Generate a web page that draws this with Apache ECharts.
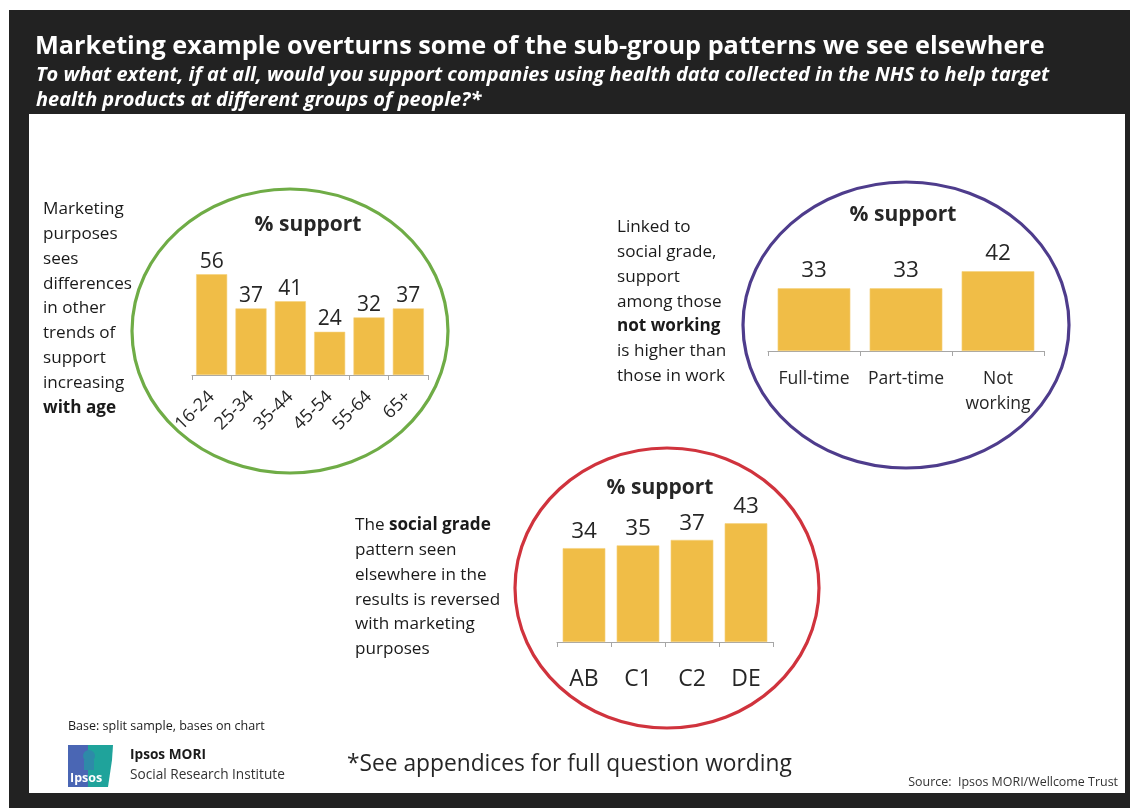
<!DOCTYPE html>
<html><head><meta charset="utf-8">
<script src="https://cdn.jsdelivr.net/npm/echarts@6/dist/echarts.min.js"></script>
<style>html,body{margin:0;padding:0;background:#fff}#c{width:1130px;height:808px}</style>
</head><body><div id="c"></div>
<script>
// ---------- data ----------
const titleText = 'Marketing example overturns some of the sub-group patterns we see elsewhere';
const subtitleLines = [
  'To what extent, if at all, would you support companies using health data collected in the NHS to help target',
  'health products at different groups of people?*'
];
const panelTitle = '% support';
const ageCategories = ['16-24', '25-34', '35-44', '45-54', '55-64', '65+'];
const ageValues = [56, 37, 41, 24, 32, 37];
const workCategories = ['Full-time', 'Part-time', 'Not\nworking'];
const workValues = [33, 33, 42];
const gradeCategories = ['AB', 'C1', 'C2', 'DE'];
const gradeValues = [34, 35, 37, 43];
const ageNote = ['Marketing', 'purposes', 'sees', 'differences', 'in other', 'trends of', 'support', 'increasing', '{b|with age}'];
const workNote = ['Linked to', 'social grade,', 'support', 'among those', '{b|not working}', 'is higher than', 'those in work'];
const gradeNote = ['The {b|social grade}', 'pattern seen', 'elsewhere in the', 'results is reversed', 'with marketing', 'purposes'];
const baseText = 'Base: split sample, bases on chart';
const footText = '*See appendices for full question wording';
const sourceText = 'Source:  Ipsos MORI/Wellcome Trust';

// ---------- styling helpers ----------
const FAM = '"Open Sans", "Noto Sans", sans-serif';
const TXT = '#262626';
const BAR = '#F0BD47';
const mctx = document.createElement('canvas').getContext('2d');
function textW(t, size, weight, style) {
  mctx.font = (style || 'normal') + ' ' + (weight || 'normal') + ' ' + size + 'px ' + FAM;
  return mctx.measureText(t).width;
}
function fitSize(t, target, weight, style) { return 100 * target / textW(t, 100, weight, style); }

const titleSize = Math.min(26, fitSize(titleText, 1010, 'bold'));
const subSize = Math.min(20, fitSize(subtitleLines[0], 1014, 'bold', 'italic'));
const footSize = Math.min(27, fitSize(footText, 445));
const bodySize = Math.min(18.5, fitSize('differences', 89));
const baseSize = Math.min(13, fitSize(baseText, 197));
const logoSize = Math.min(16, fitSize('Social Research Institute', 155));
const srcSize = Math.min(14, fitSize(sourceText, 210));

function txt(text, x, y, opts) {
  const st = Object.assign({
    text, x, y, fill: TXT, fontFamily: FAM, fontSize: 16,
    align: 'left', textAlign: 'left', verticalAlign: 'middle', textVerticalAlign: 'middle'
  }, opts || {});
  if (st.align) st.textAlign = st.align;
  return { type: 'text', z: 5, style: st };
}
function note(lines, x, yFirst) {
  const lh = 24.9;
  return {
    type: 'text', z: 5,
    style: {
      text: lines.join('\n'), x, y: yFirst - lh / 2,
      fill: '#1a1a1a', fontFamily: FAM, fontSize: bodySize, lineHeight: lh,
      align: 'left', textAlign: 'left', verticalAlign: 'top', textVerticalAlign: 'top',
      rich: { b: { fontWeight: 'bold', fontFamily: FAM, fontSize: bodySize, lineHeight: lh, fill: '#1a1a1a', color: '#1a1a1a' } }
    }
  };
}

function catAxis(gridIndex, data, label) {
  return {
    type: 'category', gridIndex, data, boundaryGap: true,
    axisLine: { show: true, lineStyle: { color: '#a6a6a6', width: 1 } },
    axisTick: { show: true, length: 5, lineStyle: { color: '#a6a6a6' } },
    axisLabel: Object.assign({ color: TXT, fontFamily: FAM, interval: 0 }, label),
    splitLine: { show: false }
  };
}
function valAxis(gridIndex, max) {
  return { type: 'value', gridIndex, min: 0, max, show: false, splitLine: { show: false } };
}
function bars(i, data, fs, dist) {
  return {
    type: 'bar', xAxisIndex: i, yAxisIndex: i, data, barCategoryGap: '21%',
    itemStyle: { color: BAR, borderColor: '#F5D27E', borderWidth: 0.6 },
    label: { show: true, position: 'top', distance: dist, fontSize: fs, fontFamily: FAM, color: TXT },
    emphasis: { disabled: true }
  };
}

const chart = echarts.init(document.getElementById('c'), null, { renderer: 'canvas' });
chart.setOption({
  animation: false,
  backgroundColor: '#ffffff',
  grid: [
    { left: 192, width: 236, top: 267, height: 108 },
    { left: 768, width: 276, top: 256, height: 95 },
    { left: 557, width: 216, top: 504, height: 138 }
  ],
  xAxis: [
    catAxis(0, ageCategories, { rotate: 45, fontSize: 18, margin: 19 }),
    catAxis(1, workCategories, { fontSize: 17.5, lineHeight: 25, margin: 16 }),
    catAxis(2, gradeCategories, { fontSize: 23, margin: 26 })
  ],
  yAxis: [valAxis(0, 60), valAxis(1, 50), valAxis(2, 50)],
  series: [bars(0, ageValues, 21, 2), bars(1, workValues, 22.5, 6), bars(2, gradeValues, 22.5, 5)],
  graphic: { elements: [
    { type: 'rect', z: -10, shape: { x: 9, y: 10, width: 1121, height: 798 }, style: { fill: '#222222' } },
    { type: 'rect', z: -9, shape: { x: 29, y: 114, width: 1096, height: 679 }, style: { fill: '#ffffff' } },
    txt(titleText, 35, 47, { fill: '#ffffff', fontWeight: 'bold', fontSize: titleSize }),
    txt(subtitleLines[0], 36, 75, { fill: '#ffffff', fontWeight: 'bold', fontStyle: 'italic', fontSize: subSize }),
    txt(subtitleLines[1], 36, 100, { fill: '#ffffff', fontWeight: 'bold', fontStyle: 'italic', fontSize: subSize }),
    { type: 'ellipse', z: 1, shape: { cx: 290, cy: 331, rx: 158, ry: 142 }, style: { fill: 'none', stroke: '#6FAC46', lineWidth: 3.2 } },
    { type: 'ellipse', z: 1, shape: { cx: 906, cy: 325, rx: 163, ry: 143 }, style: { fill: 'none', stroke: '#4E3C8C', lineWidth: 3.2 } },
    { type: 'ellipse', z: 1, shape: { cx: 667, cy: 588, rx: 152, ry: 140 }, style: { fill: 'none', stroke: '#D0333D', lineWidth: 3.2 } },
    txt(panelTitle, 308, 225, { fontWeight: 'bold', fontSize: 21, align: 'center' }),
    txt(panelTitle, 903, 215, { fontWeight: 'bold', fontSize: 21, align: 'center' }),
    txt(panelTitle, 660, 488, { fontWeight: 'bold', fontSize: 21, align: 'center' }),
    note(ageNote, 43, 209),
    note(workNote, 617, 227),
    note(gradeNote, 355, 525),
    txt(baseText, 68, 726, { fontSize: baseSize, fill: '#1a1a1a' }),
    // logo
    { type: 'rect', z: 5, shape: { x: 68, y: 745, width: 22, height: 42 }, style: { fill: '#4A66B4' } },
    { type: 'polygon', z: 5, shape: { points: [[88, 745], [113, 745], [112, 760], [108, 787], [88, 787]] }, style: { fill: '#1FA39B' } },
    { type: 'circle', z: 6, shape: { cx: 89, cy: 756, r: 6 }, style: { fill: '#2E8AA8' } },
    { type: 'rect', z: 6, shape: { x: 84, y: 760, width: 10, height: 10 }, style: { fill: '#2E8AA8' } },
    txt('Ipsos', 70, 778, { fill: '#ffffff', fontWeight: 'bold', fontSize: 12.5 }),
    txt('Ipsos MORI', 130, 755, { fontWeight: 'bold', fontSize: logoSize, fill: '#1a1a1a' }),
    txt('Social Research Institute', 130, 775, { fontSize: logoSize, fill: '#333333' }),
    txt(footText, 347, 765, { fontSize: footSize, fill: '#262626' }),
    txt(sourceText, 1118, 782, { fontSize: srcSize, fill: '#333333', align: 'right' })
  ] }
});
</script>
</body></html>
